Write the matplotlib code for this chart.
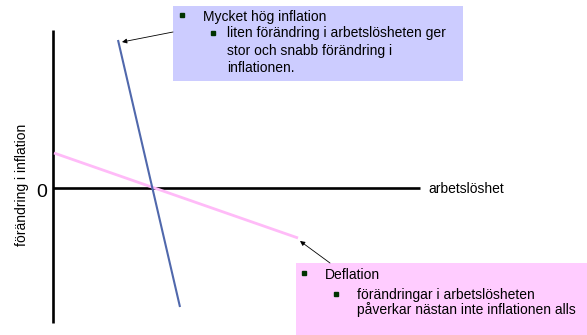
import matplotlib
matplotlib.use("Agg")
import matplotlib.pyplot as plt
from matplotlib.patches import Rectangle

plt.rcParams['font.family'] = ['Liberation Sans', 'DejaVu Sans']

# Data (abstract units: x = arbetslöshet, y = förändring i inflation; origin at crossing axis)
blue_x = [65, 127]
blue_y = [148, -119]
pink_x = [1, 245]
pink_y = [35, -50]

axis_x_end = 367
axis_y_top = 158
axis_y_bottom = -135

box1_head = "Mycket hög inflation"
box1_sub = ["liten förändring i arbetslösheten ger",
            "stor och snabb förändring i",
            "inflationen."]
box2_head = "Deflation"
box2_sub = ["förändringar i arbetslösheten",
            "påverkar nästan inte inflationen alls"]

fig = plt.figure(figsize=(5.87, 3.35), dpi=100)
ax = fig.add_axes([0, 0, 1, 1])
ax.set_xlim(-53, 534)
ax.set_ylim(-147, 188)
ax.axis('off')

# axes lines
ax.plot([0, 0], [axis_y_bottom, axis_y_top], color='black', lw=1.9, solid_capstyle='butt')
ax.plot([0, axis_x_end], [0, 0], color='black', lw=1.9, solid_capstyle='butt')

# curves
ax.plot(pink_x, pink_y, color='#FFBBF8', lw=2.0, solid_capstyle='butt')
ax.plot(blue_x, blue_y, color='#5068AC', lw=1.5, solid_capstyle='butt')

FS = 10
ax.text(-11.3, -9, "0", fontsize=14, ha='center', va='baseline')
ax.text(375, -5.3, "arbetslöshet", fontsize=FS, ha='left', va='baseline')
ax.text(-31, 3, "förändring i inflation", fontsize=FS, rotation=90, ha='center', va='center')

bullet = dict(marker='s', ms=2.8, color='#003300', zorder=4)

# box 1 (blue)
ax.add_patch(Rectangle((120, 107), 290, 75, facecolor='#CCCCFF', edgecolor='none', zorder=3))
ax.plot([129], [173], **bullet)
ax.text(150, 167, box1_head, fontsize=FS, ha='left', va='baseline', zorder=4)
ax.plot([160], [155], **bullet)
for i, line in enumerate(box1_sub):
    ax.text(174, 150.5 - 17.5 * i, line, fontsize=FS, ha='left', va='baseline', zorder=4)

# box 2 (pink)
ax.add_patch(Rectangle((243, -147), 291, 72, facecolor='#FFCCFF', edgecolor='none', zorder=3))
ax.plot([251], [-84.7], **bullet)
ax.text(272, -90.7, box2_head, fontsize=FS, ha='left', va='baseline', zorder=4)
ax.plot([283], [-105.7], **bullet)
for i, line in enumerate(box2_sub):
    ax.text(304, -111.3 - 15 * i, line, fontsize=FS, ha='left', va='baseline', zorder=4)

# arrows
ax.annotate("", xy=(69, 146), xytext=(120, 156),
            arrowprops=dict(arrowstyle='-|>', color='black', lw=0.6, mutation_scale=7,
                            shrinkA=0, shrinkB=0))
ax.annotate("", xy=(247, -53), xytext=(277, -75),
            arrowprops=dict(arrowstyle='-|>', color='black', lw=0.6, mutation_scale=7,
                            shrinkA=0, shrinkB=0))

fig.savefig("out.png", dpi=100)
